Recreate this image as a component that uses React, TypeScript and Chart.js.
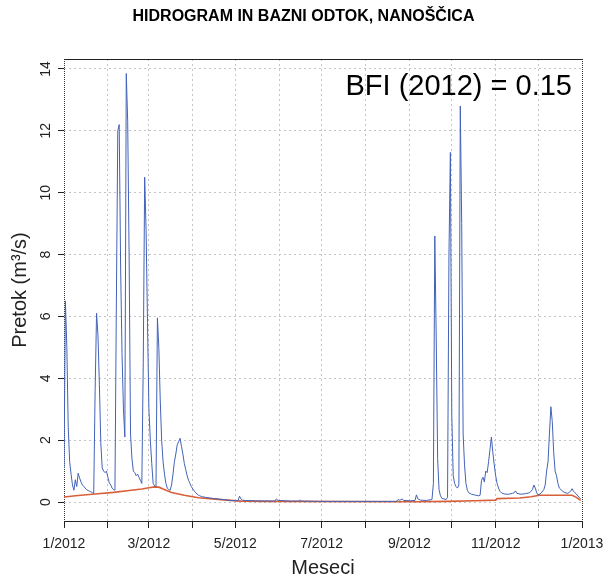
import React, { useEffect, useRef } from "react";
import { Chart, registerables } from "chart.js";

Chart.register(...registerables);

const FAMILY = "'Liberation Sans', Arial, Helvetica, sans-serif";

const TITLE = "HIDROGRAM IN BAZNI ODTOK, NANOŠČICA";
const Y_TITLE = "Pretok (m³/s)";
const X_TITLE = "Meseci";
const BFI_LABEL = "BFI (2012) = 0.15";

// day offsets of month starts (0 = 1 Jan 2012, 366 = 1 Jan 2013)
const monthStarts = [0, 31, 60, 91, 121, 152, 182, 213, 244, 274, 305, 335, 366];
const monthLabels = ["1/2012", "", "3/2012", "", "5/2012", "", "7/2012", "", "9/2012", "", "11/2012", "", "1/2013"];
const yTicks = [0, 2, 4, 6, 8, 10, 12, 14];

// discharge (m3/s), vertices (day of year, value)
const flowDays = [
  0, 1, 2, 3, 4, 5, 6, 7, 8, 9, 10, 11, 12, 13, 14, 15, 16, 17, 18, 19, 20, 21, 22, 23, 24, 25, 26, 27, 28, 29, 30,
  31, 32, 33, 34, 35, 36, 37, 38, 39, 40, 41, 42, 43, 44, 45, 46, 47, 48, 49, 50, 51, 52, 53, 54, 55, 56, 57, 58,
  59, 60, 61, 62, 63, 64, 65, 66, 67, 68, 69, 70, 71, 72, 73, 74, 75, 76, 77, 78, 79, 80, 81, 82, 83, 84, 85, 86, 87, 88, 89, 90,
  91, 92, 93, 94, 95, 96, 97, 98, 100, 103, 106, 110, 114, 118,
  121, 123, 124, 125, 126, 128, 135, 149, 150, 151, 152, 160, 166, 167, 168, 180,
  200, 235, 236, 237, 238, 239, 240, 245, 248, 249, 250, 252, 256, 260,
  261, 262, 263, 264, 265, 266, 267, 270, 271, 272, 273, 274, 275, 276, 277, 278, 279, 280, 281, 282, 283, 284, 285, 286, 288, 290, 293, 294,
  295, 296, 297, 298, 299, 300, 301, 302, 303, 304, 305, 306, 307, 308, 309, 311, 314, 317, 318, 319, 320, 323, 326, 329,
  331, 332, 333, 334, 335, 337, 339, 340, 341, 342, 343, 344, 345, 346, 347, 348, 349, 350, 352, 354, 356, 358, 359, 360, 361, 362, 364, 365,
];
const flowValues = [
  1.1, 6.5, 5.0, 2.4, 1.3, 0.9, 0.55, 0.38, 0.72, 0.5, 0.93, 0.78, 0.65, 0.55, 0.5, 0.45, 0.4, 0.37, 0.35, 0.33, 0.3, 0.28, 3.6, 6.1, 5.4, 3.8, 1.9, 1.1, 1.0, 0.95, 1.0,
  0.8, 0.62, 0.55, 0.45, 0.4, 0.38, 6.4, 12.0, 12.2, 7.6, 4.8, 3.0, 2.1, 13.85, 12.3, 8.0, 2.2, 1.4, 1.0, 0.95, 0.85, 0.9, 0.8, 0.7, 0.6, 4.5, 10.5, 8.8,
  5.8, 3.0, 2.0, 1.25, 0.6, 0.52, 0.5, 5.95, 5.0, 3.3, 2.0, 1.3, 0.9, 0.6, 0.45, 0.4, 0.38, 0.55, 0.9, 1.3, 1.55, 1.85, 1.95, 2.06, 1.8, 1.55, 1.25, 1.05, 0.85, 0.7, 0.6, 0.5,
  0.42, 0.36, 0.3, 0.26, 0.22, 0.2, 0.18, 0.17, 0.15, 0.13, 0.11, 0.09, 0.07, 0.05,
  0.04, 0.04, 0.19, 0.1, 0.06, 0.05, 0.04, 0.03, 0.1, 0.06, 0.05, 0.03, 0.03, 0.06, 0.03, 0.02,
  0.02, 0.02, 0.08, 0.06, 0.07, 0.1, 0.05, 0.04, 0.05, 0.23, 0.1, 0.06, 0.05, 0.08,
  0.6, 8.6, 5.3, 1.4, 0.4, 0.2, 0.12, 0.08, 0.15, 8.0, 11.3, 2.8, 0.85, 0.6, 0.5, 0.45, 0.55, 12.8, 9.0, 2.2, 1.2, 0.6, 0.38, 0.3, 0.25, 0.23, 0.2, 0.22,
  0.7, 0.8, 0.65, 1.0, 0.95, 1.3, 1.7, 2.1, 1.6, 1.2, 0.85, 0.6, 0.45, 0.35, 0.3, 0.26, 0.25, 0.28, 0.3, 0.36, 0.28, 0.25, 0.27, 0.3,
  0.4, 0.55, 0.45, 0.3, 0.22, 0.28, 0.4, 0.55, 1.0, 1.3, 2.2, 3.08, 2.6, 1.6, 1.0, 0.85, 0.6, 0.45, 0.36, 0.3, 0.28, 0.35, 0.43, 0.35, 0.3, 0.26, 0.15, 0.1,
];

// baseflow (m3/s)
const baseDays = [0, 10, 22, 35, 46, 55, 60, 64, 67, 70, 76, 85, 95, 105, 115, 125, 140, 250, 270, 290, 305, 306, 322, 330, 336, 359, 362, 365];
const baseValues = [0.16, 0.21, 0.26, 0.31, 0.37, 0.42, 0.46, 0.49, 0.48, 0.42, 0.31, 0.22, 0.14, 0.1, 0.06, 0.03, 0.02, 0.01, 0.02, 0.04, 0.06, 0.11, 0.13, 0.17, 0.22, 0.22, 0.15, 0.05];

const isEdge = (i: number) => i === 0 || i === monthStarts.length - 1;

const decorPlugin = {
  id: "decor",
  afterDraw(chart: any) {
    const { ctx, chartArea: a } = chart;
    ctx.save();
    ctx.strokeStyle = "#222";
    ctx.lineWidth = 1;
    ctx.beginPath();
    ctx.moveTo(a.left, Math.round(a.top) + 0.5);
    ctx.lineTo(a.right, Math.round(a.top) + 0.5);
    ctx.stroke();
    ctx.fillStyle = "#000";
    ctx.textBaseline = "middle";
    ctx.textAlign = "center";
    ctx.font = `bold 16px ${FAMILY}`;
    ctx.fillText(TITLE, chart.width / 2 + 2, 17);
    ctx.font = `29px ${FAMILY}`;
    ctx.textAlign = "right";
    ctx.fillText(BFI_LABEL, a.right - 10, 87);
    ctx.restore();
  },
};

export default function App() {
  const ref = useRef<HTMLCanvasElement | null>(null);

  useEffect(() => {
    if (!ref.current) return;
    const flow = flowDays.map((d, i) => ({ x: d, y: flowValues[i] }));
    const base = baseDays.map((d, i) => ({ x: d, y: baseValues[i] }));
    const chart = new Chart(ref.current, {
      type: "line",
      data: {
        datasets: [
          {
            label: "Pretok",
            data: flow,
            borderColor: "#4262b8",
            borderWidth: 1,
            pointRadius: 0,
            tension: 0,
            fill: false,
          },
          {
            label: "Bazni odtok",
            data: base,
            borderColor: "#d95f38",
            borderWidth: 1.6,
            pointRadius: 0,
            tension: 0,
            fill: false,
          },
        ],
      },
      options: {
        animation: false,
        responsive: false,
        events: [],
        layout: { padding: { top: 59, right: 21, left: 0, bottom: 0 } },
        plugins: {
          legend: { display: false },
          tooltip: { enabled: false },
          title: { display: false },
        },
        scales: {
          x: {
            type: "linear",
            min: 0,
            max: 366,
            afterBuildTicks: (s: any) => {
              s.ticks = monthStarts.map((v) => ({ value: v }));
            },
            afterFit: (s: any) => {
              s.height = 60;
              s.paddingLeft = 0;
              s.paddingRight = 0;
            },
            ticks: {
              autoSkip: false,
              maxRotation: 0,
              minRotation: 0,
              padding: 8,
              color: "#222",
              font: { size: 14, family: FAMILY },
              callback: (_v: any, i: number) => monthLabels[i],
            },
            grid: {
              color: (c: any) => (isEdge(c.index) ? "#333" : "#c4c4c4"),
              lineWidth: 1,
              drawTicks: true,
              tickLength: 7,
              tickColor: "#222",
              tickWidth: 1,
            },
            border: {
              display: true,
              color: "#222",
              width: 1,
              dash: (c: any) => (isEdge(c.index) ? [1, 1] : [2, 3]),
            },
            title: {
              display: true,
              text: X_TITLE,
              color: "#222",
              font: { size: 20, family: FAMILY },
              padding: { top: 0, bottom: 1 },
            },
          },
          y: {
            type: "linear",
            min: -0.614,
            max: 14.32,
            afterBuildTicks: (s: any) => {
              s.ticks = yTicks.map((v) => ({ value: v }));
            },
            afterFit: (s: any) => {
              s.width = 64;
            },
            ticks: {
              minRotation: 90,
              maxRotation: 90,
              crossAlign: "center",
              padding: 4,
              color: "#222",
              font: { size: 14, family: FAMILY },
              callback: (v: any) => String(v),
            },
            grid: {
              color: "#c4c4c4",
              lineWidth: 1,
              drawTicks: true,
              tickLength: 6,
              tickColor: "#222",
              tickWidth: 1,
            },
            border: { display: false, dash: [2, 3] },
            title: {
              display: true,
              text: Y_TITLE,
              color: "#222",
              font: { size: 20, family: FAMILY },
              padding: { top: 8, bottom: 0 },
            },
          },
        },
      } as any,
      plugins: [decorPlugin],
    });
    return () => chart.destroy();
  }, []);

  return (
    <div style={{ position: "fixed", left: 0, top: 0, width: 603, height: 581, background: "#fff" }}>
      <canvas ref={ref} width={603} height={581} style={{ display: "block" }} />
    </div>
  );
}
